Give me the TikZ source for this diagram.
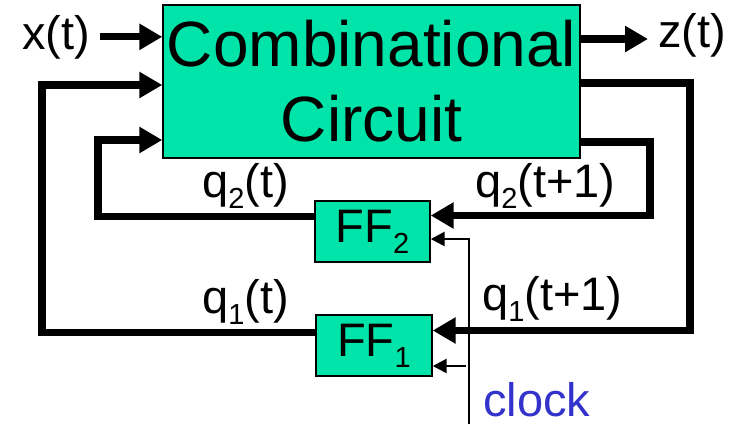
\documentclass[tikz,border=0pt]{standalone}
\usepackage{fontspec}
\setmainfont{Liberation Sans}
\usepackage{xcolor}
\usepackage{tikz}
\usetikzlibrary{arrows.meta,calc}
\definecolor{ccfill}{RGB}{0,228,170}
\definecolor{clkblue}{RGB}{51,51,204}
\newcommand{\lowsub}[1]{\raisebox{-11pt}{\fontsize{29}{29}\selectfont #1}}
\tikzset{
  blk/.style={
    draw=black, line width=1.4pt, fill=ccfill,
    inner sep=0pt, align=center
  },
  lbl/.style={font=\fontsize{47}{50}\selectfont, inner sep=0pt},
  wire/.style={draw=black, line width=7.2pt, line join=miter},
  arr/.style={wire, -{Triangle[length=23pt,width=25pt]}},
  clkarr/.style={draw=black, line width=2.6pt, -{Triangle[length=14pt,width=14pt]}},
  every picture/.append style={font=\fontsize{47}{50}\selectfont}
}

\begin{document}
\begin{tikzpicture}[x=1pt,y=-1pt]
  \useasboundingbox (0,0) rectangle (731,424);
  % blocks
  \node[blk, minimum width=417pt, minimum height=153pt,
        font=\fontsize{64}{75}\selectfont] (cc) at (371.5,81.5) {Combinational\\Circuit};
  \node[blk, minimum width=115pt, minimum height=61pt] (ff2) at (372.5,231.5) {FF\lowsub{2}};
  \node[blk, minimum width=116pt, minimum height=61pt] (ff1) at (374,345.5) {FF\lowsub{1}};
  % labels
  \node[lbl, anchor=base west] (xt) at (22,49) {x(t)};
  \node[lbl, anchor=base west] (zt) at (658,47) {z(t)};
  \node[lbl, anchor=base west] (q2o) at (202,197) {q\lowsub{2}(t)};
  \node[lbl, anchor=base west] (q2i) at (475,197) {q\lowsub{2}(t+1)};
  \node[lbl, anchor=base west] (q1o) at (202,313) {q\lowsub{1}(t)};
  \node[lbl, anchor=base west] (q1i) at (482,310) {q\lowsub{1}(t+1)};
  \node[lbl, anchor=base west, text=clkblue] (clklbl) at (483,416) {clock};
  % corner points
  \coordinate (zend) at (648,39);
  \coordinate (q1r) at (690,83);
  \coordinate (q1l) at (42,85);
  \coordinate (q2r) at (650,142);
  \coordinate (q2l) at (98,140);
  \coordinate (clk) at (469,424);
  \coordinate (ff2d) at ($(ff2.east)+(0,-16)$);
  \coordinate (ff2c) at ($(ff2.east)+(0,7.5)$);
  \coordinate (ff2q) at ($(ff2.west)+(0,-15)$);
  \coordinate (ff1d) at ($(ff1.east)+(0,-15)$);
  \coordinate (ff1c) at ($(ff1.east)+(0,20.5)$);
  \coordinate (ff1q) at ($(ff1.west)+(0,-13)$);
  % signals
  \draw[arr] ([xshift=10pt]xt.east) -- (xt.east -| cc.west);
  \draw[arr] (cc.east |- zend) -- (zend);
  \draw[arr] (cc.east |- q1r) -- (q1r) |- (ff1d);
  \draw[arr] (ff1q) -| (q1l) -- (q1l -| cc.west);
  \draw[arr] (cc.east |- q2r) -- (q2r) |- (ff2d);
  \draw[arr] (ff2q) -| (q2l) -- (q2l -| cc.west);
  % clock
  \draw[clkarr] (clk) |- (ff2c);
  \draw[clkarr, shorten <=3pt] (ff1c -| clk) -- (ff1c);
\end{tikzpicture}
\end{document}
